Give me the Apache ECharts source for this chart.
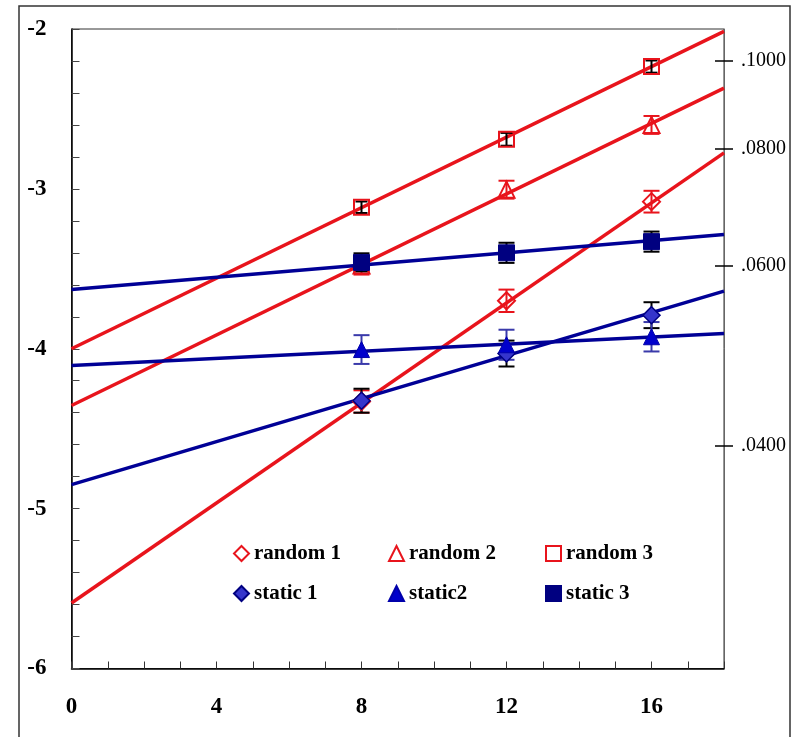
<!DOCTYPE html>
<html>
<head>
<meta charset="utf-8">
<script src="https://cdn.jsdelivr.net/npm/echarts@6/dist/echarts.min.js"></script>
<style>
  html, body { margin: 0; padding: 0; background: #fff; }
  #chart { width: 795px; height: 737px; }
</style>
</head>
<body>
<div id="chart"></div>
<script>
// 测量点
var pointX = [8, 12, 16]
var random1 = [-4.33, -3.70, -3.08]
var random2 = [-3.48, -3.005, -2.60]
var random3 = [-3.115, -2.69, -2.235]
var static1 = [-4.325, -4.03, -3.79]
var static2 = [-4.005, -3.975, -3.925]
var static3 = [-3.46, -3.40, -3.33]
// 误差
var random1Err = [0.07, 0.07, 0.068]
var random2Err = [0.056, 0.056, 0.056]
var random3Err = [0.036, 0.04, 0.038]
var static1Err = [0.075, 0.081, 0.081]
var static2Err = [0.09, 0.094, 0.092]
var static3Err = [0.057, 0.063, 0.063]
// 拟合直线 (x=0 和 x=18 处的值)
var fitX = [0, 18]
var random1Fit = [-5.59, -2.775]
var random2Fit = [-4.355, -2.37]
var random3Fit = [-4.0, -2.015]
var static1Fit = [-4.85, -3.64]
var static2Fit = [-4.105, -3.905]
var static3Fit = [-3.63, -3.285]
// 刻度
var xTicks = [0, 1, 2, 3, 4, 5, 6, 7, 8, 9, 10, 11, 12, 13, 14, 15, 16, 17, 18]
var xLabels = [0, 4, 8, 12, 16]
var yTicks = [-6, -5.8, -5.6, -5.4, -5.2, -5, -4.8, -4.6, -4.4, -4.2, -4, -3.8, -3.6, -3.4, -3.2, -3, -2.8, -2.6, -2.4, -2.2, -2]
var yLabels = [-6, -5, -4, -3, -2]
var rightTickVals = [-2.198, -2.747, -3.482, -4.604]
var rightTickText = ['.1000', '.0800', '.0600', '.0400']
// 图例
var legendNames = ['random 1', 'random 2', 'random 3', 'static 1', 'static2', 'static 3']

var RED = '#e8141c'
var NAVY = '#000096'
var SERIF = "'Liberation Serif', 'Times New Roman', serif"

function pts(xs, ys) {
  return xs.map(function (x, i) { return [x, ys[i]] })
}
function errData(xs, ys, es) {
  return xs.map(function (x, i) { return [x, ys[i] - es[i], ys[i] + es[i]] })
}
function fitLine(ys, color) {
  return {
    type: 'line',
    data: pts(fitX, ys),
    showSymbol: false,
    symbol: 'none',
    silent: true,
    z: 2,
    lineStyle: { color: color, width: 3.5 }
  }
}
function errBars(xs, ys, es, color, half) {
  return {
    type: 'custom',
    data: errData(xs, ys, es),
    encode: { x: 0, y: [1, 2] },
    silent: true,
    z: 3,
    renderItem: function (params, api) {
      var x = api.value(0)
      var lo = api.coord([x, api.value(1)])
      var hi = api.coord([x, api.value(2)])
      var st = { stroke: color, lineWidth: 2 }
      return {
        type: 'group',
        children: [
          { type: 'line', shape: { x1: lo[0], y1: lo[1], x2: hi[0], y2: hi[1] }, style: st },
          { type: 'line', shape: { x1: lo[0] - half, y1: lo[1], x2: lo[0] + half, y2: lo[1] }, style: st },
          { type: 'line', shape: { x1: hi[0] - half, y1: hi[1], x2: hi[0] + half, y2: hi[1] }, style: st }
        ]
      }
    }
  }
}
function points(name, ys, symbol, size, itemStyle) {
  itemStyle.opacity = 1
  return {
    name: name,
    type: 'scatter',
    data: pts(pointX, ys),
    symbol: symbol,
    symbolSize: size,
    z: 4,
    itemStyle: itemStyle
  }
}

var myChart = echarts.init(document.getElementById('chart'))

// 图例: 两行三列
var legendLeft = [233, 388, 545]
var legendTop = [543, 583]
var legends = legendNames.map(function (name, i) {
  return {
    data: [name],
    left: legendLeft[i % 3],
    top: legendTop[Math.floor(i / 3)],
    padding: 0,
    itemWidth: 15,
    itemHeight: 15,
    itemGap: 0,
    selectedMode: false,
    textStyle: {
      color: '#000',
      fontFamily: SERIF,
      fontWeight: 'bold',
      fontSize: 21
    }
  }
})

var option = {
  animation: false,
  backgroundColor: '#fff',
  graphic: [{
    type: 'rect',
    shape: { x: 19, y: 6, width: 771, height: 745 },
    style: { fill: 'none', stroke: '#333', lineWidth: 1.5 },
    silent: true
  }],
  legend: legends,
  grid: {
    left: 71.5,
    right: 71,
    top: 29,
    bottom: 68.5,
    show: true,
    borderColor: '#333',
    borderWidth: 1
  },
  xAxis: {
    type: 'value',
    min: 0,
    max: 18,
    interval: 4,
    splitLine: { show: false },
    axisLine: { lineStyle: { color: '#000', width: 1.5 } },
    axisTick: {
      inside: true,
      length: 7,
      customValues: xTicks,
      lineStyle: { color: '#333', width: 1 }
    },
    axisLabel: {
      customValues: xLabels,
      margin: 27,
      color: '#000',
      fontFamily: SERIF,
      fontWeight: 'bold',
      fontSize: 23
    }
  },
  yAxis: [
    {
      type: 'value',
      min: -6,
      max: -2,
      interval: 1,
      splitLine: { show: false },
      axisLine: { lineStyle: { color: '#000', width: 1.5 } },
      axisTick: {
        inside: true,
        length: 8,
        customValues: yTicks,
        lineStyle: { color: '#444', width: 1 }
      },
      axisLabel: {
        customValues: yLabels,
        margin: 25,
        color: '#000',
        fontFamily: SERIF,
        fontWeight: 'bold',
        fontSize: 23
      }
    },
    {
      type: 'value',
      position: 'right',
      min: -6,
      max: -2,
      splitLine: { show: false },
      axisLine: { show: true, lineStyle: { color: '#666', width: 1 } },
      axisTick: {
        length: 9,
        customValues: rightTickVals,
        lineStyle: { color: '#000', width: 1.5 }
      },
      axisLabel: {
        customValues: rightTickVals,
        margin: 17,
        color: '#000',
        fontFamily: SERIF,
        fontSize: 20,
        formatter: function (v) {
          var best = 0
          rightTickVals.forEach(function (t, i) {
            if (Math.abs(t - v) < Math.abs(rightTickVals[best] - v)) best = i
          })
          return rightTickText[best]
        }
      }
    },
    {
      type: 'value',
      position: 'right',
      min: -6,
      max: -2,
      splitLine: { show: false },
      axisLine: { show: false },
      axisLabel: { show: false },
      axisTick: {
        inside: true,
        length: 9,
        customValues: rightTickVals,
        lineStyle: { color: '#000', width: 1.5 }
      }
    }
  ],
  series: [
    fitLine(random1Fit, RED),
    fitLine(random2Fit, RED),
    fitLine(random3Fit, RED),
    fitLine(static1Fit, NAVY),
    fitLine(static2Fit, NAVY),
    fitLine(static3Fit, NAVY),
    errBars(pointX, random1, random1Err, RED, 8),
    errBars(pointX, random2, random2Err, RED, 8),
    errBars(pointX, random3, random3Err, '#000', 6),
    points('random 1', random1, 'diamond', 17, { color: 'transparent', borderColor: RED, borderWidth: 2 }),
    points('random 2', random2, 'triangle', 16, { color: 'transparent', borderColor: RED, borderWidth: 2 }),
    points('random 3', random3, 'rect', 15, { color: 'transparent', borderColor: RED, borderWidth: 2 }),
    errBars(pointX, static1, static1Err, '#000', 8),
    errBars(pointX, static2, static2Err, '#3a3aaa', 8),
    errBars(pointX, static3, static3Err, '#000', 8),
    points('static 1', static1, 'diamond', 17, { color: '#3535cc', borderColor: '#000080', borderWidth: 1.5 }),
    points('static2', static2, 'triangle', 16, { color: '#0000cc', borderColor: '#0000aa', borderWidth: 1 }),
    points('static 3', static3, 'rect', 16, { color: '#000080', borderColor: '#000080', borderWidth: 1 })
  ]
}
myChart.setOption(option)
window.addEventListener('resize', function () {
  myChart.resize()
})
</script>
</body>
</html>
